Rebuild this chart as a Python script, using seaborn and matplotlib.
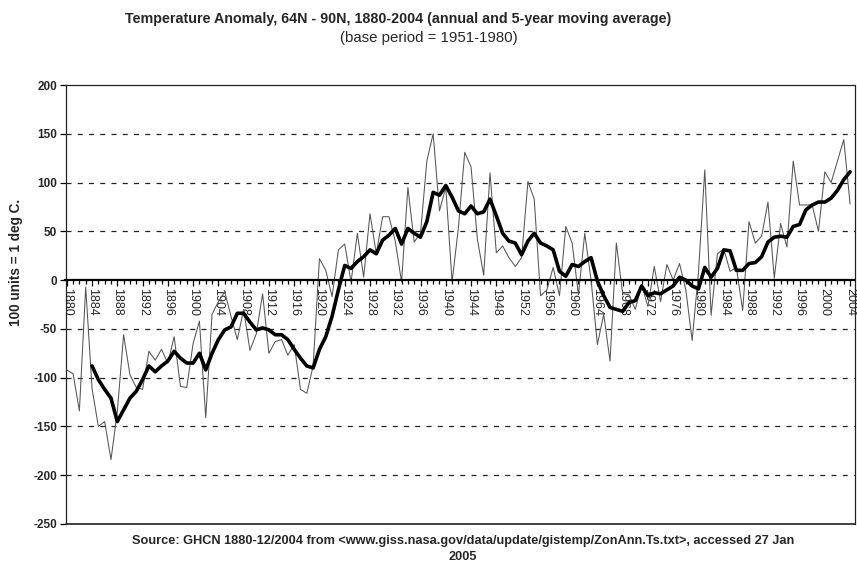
import matplotlib
matplotlib.use("Agg")
import matplotlib.pyplot as plt
import pandas as pd
import seaborn as sns

# ---- data ----
years = list(range(1880, 2005))
annual = [
    -92, -96, -134, -7, -111, -150, -145, -184, -135, -56,      # 1880-1889
    -97, -110, -112, -73, -82, -71, -85, -58, -109, -110,       # 1890-1899
    -65, -42, -141, -35, -22, -12, -37, -61, -30, -72,          # 1900-1909
    -55, -14, -75, -63, -61, -77, -66, -112, -116, -88,         # 1910-1919
    22, 10, -17, 31, 37, -2, 48, 3, 68, 27,                     # 1920-1929
    65, 65, 40, -2, 95, 39, 48, 122, 150, 71,                   # 1930-1939
    95, -2, 54, 131, 116, 42, 5, 110, 28, 35,                   # 1940-1949
    23, 14, 23, 101, 83, -16, -10, 13, -16, 55,                 # 1950-1959
    38, -15, 48, 0, -66, -35, -83, 38, -14, -15,                # 1960-1969
    -30, -5, -27, 14, -22, 16, 0, 17, -10, -62,                 # 1970-1979
    8, 113, -36, 27, 32, 9, 13, -31, 60, 38,                    # 1980-1989
    45, 80, 2, 58, 34, 122, 77, 77, 77, 50,                     # 1990-1999
    111, 100, 122, 144, 78,                                     # 2000-2004
]
ma_years = list(range(1884, 2005))
moving_avg = [
    -88, -102, -112, -121, -145, -133,                          # 1884-1889
    -121, -114, -102, -88, -94, -88, -83, -73, -80, -85,        # 1890-1899
    -85, -75, -92, -75, -61, -51, -48, -34, -34, -43,           # 1900-1909
    -51, -49, -51, -56, -56, -61, -71, -80, -88, -90,           # 1910-1919
    -71, -58, -37, -10, 15, 12, 19, 24, 31, 27,                 # 1920-1929
    41, 46, 53, 37, 53, 48, 44, 60, 90, 87,                     # 1930-1939
    97, 85, 71, 68, 76, 68, 70, 83, 66, 48,                     # 1940-1949
    40, 38, 26, 40, 48, 38, 35, 31, 9, 4,                       # 1950-1959
    16, 14, 19, 23, -1, -16, -28, -30, -32, -23,                # 1960-1969
    -21, -6, -16, -13, -14, -10, -6, 3, 0, -6,                  # 1970-1979
    -9, 13, 3, 12, 31, 30, 10, 10, 17, 18,                      # 1980-1989
    24, 39, 44, 45, 44, 55, 57, 72, 77, 80,                     # 1990-1999
    80, 84, 92, 103, 111,                                       # 2000-2004
]
y_ticks = [-250, -200, -150, -100, -50, 0, 50, 100, 150, 200]
x_tick_years = list(range(1880, 2005, 4))

title = "Temperature Anomaly, 64N - 90N, 1880-2004 (annual and 5-year moving average)"
subtitle = "(base period = 1951-1980)"
ylabel = "100 units = 1 deg C."
source1 = ("Source: GHCN 1880-12/2004 from <www.giss.nasa.gov/data/update/gistemp/"
           "ZonAnn.Ts.txt>, accessed 27 Jan")
source2 = "2005"

# ---- styling ----
sns.set_theme(style="white")
plt.rcParams['font.family'] = ['Liberation Sans', 'DejaVu Sans']

W, H = 857, 566
fig = plt.figure(figsize=(W / 100, H / 100), dpi=100)
fig.patch.set_facecolor("white")
left_px, right_px, top_px, bot_px = 65.5, 854.5, 85, 524
ax = fig.add_axes([left_px / W, 1 - bot_px / H, (right_px - left_px) / W, (bot_px - top_px) / H])

df_a = pd.DataFrame({"year": years, "value": annual})
df_m = pd.DataFrame({"year": ma_years, "value": moving_avg})

# dashed gridlines
for v in y_ticks:
    if v not in (0, y_ticks[0], y_ticks[-1]):
        ax.axhline(v, color="#222222", lw=0.9, ls=(0, (4, 5)), zorder=0)

sns.lineplot(data=df_a, x="year", y="value", ax=ax, color="#555555", lw=0.75, zorder=3)
sns.lineplot(data=df_m, x="year", y="value", ax=ax, color="black", lw=2.6, zorder=4)

ax.set_xlim(1879.8, 2004.7)
ax.set_ylim(y_ticks[0], y_ticks[-1])
ax.set_yticks(y_ticks)
ax.set_yticklabels([str(v) for v in y_ticks])
ax.set_xticks(x_tick_years)
ax.set_xticklabels([str(y) for y in x_tick_years])
ax.set_xticks(years, minor=True)
ax.set_xlabel("")
ax.set_ylabel("")

# spines: frame plus x axis at zero
for s in ("left", "right", "top"):
    ax.spines[s].set_color("#222222")
    ax.spines[s].set_linewidth(0.9)
ax.spines["bottom"].set_position(("data", 0))
ax.spines["bottom"].set_color("black")
ax.spines["bottom"].set_linewidth(1.6)
ax.spines["bottom"].set_zorder(5)
ax.plot([0, 1], [0, 0], transform=ax.transAxes, color="#222222", lw=1.2, clip_on=False)

ax.tick_params(axis="x", which="both", bottom=True, direction="out", color="black",
               width=0.9, pad=1.5, labelrotation=-90, labelsize=9)
ax.tick_params(axis="x", which="major", length=4)
ax.tick_params(axis="x", which="minor", length=3)
ax.tick_params(axis="y", which="major", left=True, direction="out", length=4,
               width=0.9, color="black", pad=2, labelsize=8.5)
for lbl in ax.get_yticklabels():
    lbl.set_fontweight("bold")

fig.text(0.464, 0.967, title, ha="center", va="center", fontsize=10.3, fontweight="bold")
fig.text(0.5, 0.932, subtitle, ha="center", va="center", fontsize=10.8)
fig.text(0.019, 0.537, ylabel, rotation=90, ha="center", va="center", fontsize=9.8,
         fontweight="bold")
fig.text(0.54, 0.044, source1, ha="center", va="center", fontsize=9.2, fontweight="bold")
fig.text(0.54, 0.016, source2, ha="center", va="center", fontsize=9.2, fontweight="bold")

fig.savefig("out.png", dpi=100, facecolor="white")
